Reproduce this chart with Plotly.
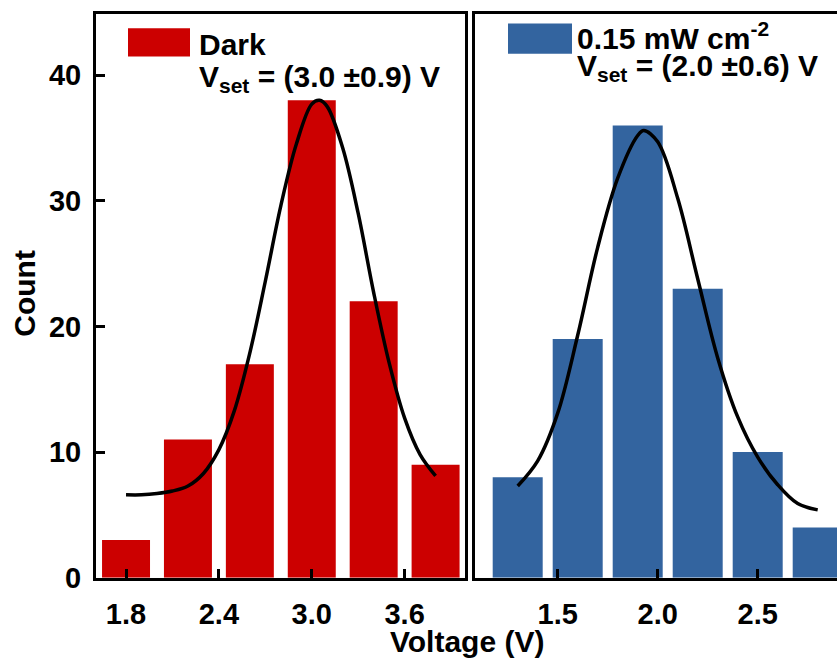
import plotly.graph_objects as go

# ---- data -------------------------------------------------------------
dark_centers = [1.8, 2.2, 2.6, 3.0, 3.4, 3.8]
dark_counts = [3, 11, 17, 38, 22, 9]

light_centers = [1.3, 1.6, 1.9, 2.2, 2.5, 2.8]
light_counts = [8, 19, 36, 23, 10, 4]

# Gaussian fit curves (voltage, count)
dark_fit_v = [1.8, 1.9, 2.0, 2.1, 2.2, 2.3, 2.4, 2.5, 2.6, 2.7, 2.8, 2.9, 3.0,
              3.05, 3.1, 3.2, 3.3, 3.4, 3.5, 3.6, 3.7, 3.8]
dark_fit_c = [6.6, 6.6, 6.7, 6.9, 7.3, 8.3, 10.2, 13.3, 17.9, 23.6, 29.6, 34.5, 37.7,
              38.0, 37.5, 34.2, 29.0, 22.7, 17.1, 12.7, 9.8, 8.1]

light_fit_v = [1.3, 1.4, 1.5, 1.6, 1.7, 1.8, 1.9, 1.93, 2.0, 2.1, 2.2, 2.3, 2.4,
               2.5, 2.6, 2.7, 2.8]
light_fit_c = [7.3, 9.3, 13.1, 19.3, 26.3, 31.8, 35.2, 35.6, 34.7, 30.2, 23.8, 17.5, 12.8,
               9.6, 7.4, 5.9, 5.4]

dark_ticks = [1.8, 2.4, 3.0, 3.6]
light_ticks = [1.5, 2.0, 2.5]
count_ticks = [0, 10, 20, 30, 40]

RED = "#CC0000"
BLUE = "#33649F"
FONT = "Arial, Liberation Sans, sans-serif"

fig = go.Figure()

fig.add_trace(go.Bar(x=dark_centers, y=dark_counts, width=0.31,
                     marker=dict(color=RED, line=dict(width=0)),
                     xaxis="x", yaxis="y", showlegend=False))
fig.add_trace(go.Scatter(x=dark_fit_v, y=dark_fit_c, mode="lines",
                         line=dict(color="black", width=3.5, shape="spline", smoothing=1),
                         xaxis="x", yaxis="y", showlegend=False))

fig.add_trace(go.Bar(x=light_centers, y=light_counts, width=0.25,
                     marker=dict(color=BLUE, line=dict(width=0)),
                     xaxis="x2", yaxis="y2", showlegend=False))
fig.add_trace(go.Scatter(x=light_fit_v, y=light_fit_c, mode="lines",
                         line=dict(color="black", width=3.5, shape="spline", smoothing=1),
                         xaxis="x2", yaxis="y2", showlegend=False))

W, H = 837, 664
ydom = [1 - 592 / H, 1 - 14 / H]
tickfont = dict(family=FONT, size=29, color="black", weight="bold")

axis_common = dict(showgrid=False, zeroline=False, showline=True,
                   linecolor="black", linewidth=3, ticks="inside",
                   ticklen=9, tickwidth=3, tickcolor="black",
                   tickfont=tickfont)

fig.update_layout(
    width=W, height=H,
    margin=dict(l=0, r=0, t=0, b=0),
    paper_bgcolor="white", plot_bgcolor="white",
    font=dict(family=FONT, color="black"),
    xaxis=dict(domain=[96 / W, 465 / W], range=[1.606, 3.99],
               tickvals=dark_ticks, ticktext=[f"{v:.1f}" for v in dark_ticks],
               mirror=True, anchor="y", ticklabelstandoff=8, **axis_common),
    yaxis=dict(domain=ydom, range=[0, 44.9], tickvals=count_ticks,
               mirror=True, anchor="x", ticklabelstandoff=6, **axis_common),
    xaxis2=dict(domain=[475 / W, 1.0], range=[1.0865, 2.8965],
                tickvals=light_ticks, ticktext=[f"{v:.1f}" for v in light_ticks],
                mirror=True, anchor="y2", ticklabelstandoff=8, **axis_common),
    yaxis2=dict(domain=ydom, range=[0, 44.9], anchor="x2",
                showticklabels=False, showgrid=False, zeroline=False,
                showline=True, linecolor="black", linewidth=3, ticks=""),
)

# legend swatches
fig.add_shape(type="rect", xref="paper", yref="paper",
              x0=128 / W, x1=190 / W, y0=1 - 58 / H, y1=1 - 29 / H,
              fillcolor=RED, line=dict(width=0))
fig.add_shape(type="rect", xref="paper", yref="paper",
              x0=508 / W, x1=572 / W, y0=1 - 55 / H, y1=1 - 24 / H,
              fillcolor=BLUE, line=dict(width=0))

lab = dict(family=FONT, size=30, color="black", weight="bold")
ann = [
    dict(text="Dark", x=197 / W, y=1 - 46 / H),
    dict(text="V<sub>set</sub> = (3.0 ±0.9) V", x=197 / W, y=1 - 80 / H),
    dict(text="0.15 mW cm<sup>-2</sup>", x=575 / W, y=1 - 37 / H),
    dict(text="V<sub>set</sub> = (2.0 ±0.6) V", x=575 / W, y=1 - 69 / H),
]
for a in ann:
    fig.add_annotation(xref="paper", yref="paper", showarrow=False,
                       xanchor="left", yanchor="middle",
                       font=lab, text=a["text"], x=a["x"], y=a["y"])

# axis titles
fig.add_annotation(xref="paper", yref="paper", showarrow=False,
                   text="Voltage (V)", font=lab, x=467 / W, y=2 / H,
                   xanchor="center", yanchor="bottom", yshift=-14)
fig.add_annotation(xref="paper", yref="paper", showarrow=False,
                   text="Count", font=lab, textangle=-90, x=25 / W,
                   y=1 - 301 / H, xanchor="center", yanchor="middle")

fig.write_html("out.html")
